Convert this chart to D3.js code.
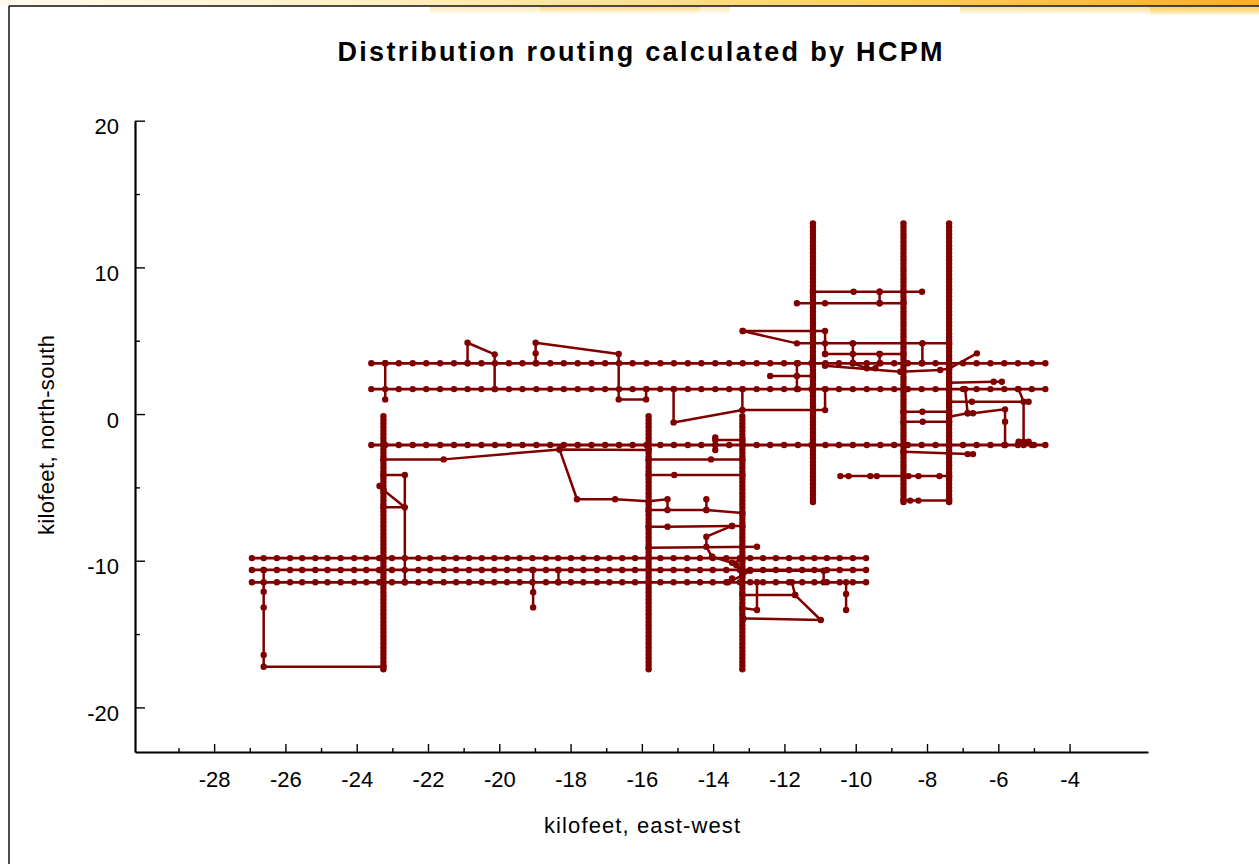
<!DOCTYPE html>
<html><head><meta charset="utf-8">
<script src="https://cdn.jsdelivr.net/npm/d3@7"></script>
<style>
body{margin:0;background:#fff}
svg{display:block}
text{font-family:"Liberation Sans",Arial,Helvetica,sans-serif;fill:#000}
</style>
</head><body>
<svg id="chart" width="1259" height="864"></svg>
<script>
// ---------- data (kilofeet) ----------
const upperRowY = [3.46, 1.70, -2.11];
const upperRowX = [-23.59,-23.20,-22.82,-22.43,-22.05,-21.66,-21.27,-20.89,-20.50,-20.12,
  -19.73,-19.35,-18.96,-18.57,-18.19,-17.80,-17.41,-17.03,-16.64,-16.26,
  -15.87,-15.48,-15.10,-14.71,-14.33,-13.94,-13.55,-13.17,-12.78,-12.40,
  -12.01,-11.62,-11.24,-10.85,-10.47,-10.08,-9.69,-9.31,-8.92,-8.54,
  -8.15,-7.76,-7.38,-6.99,-6.61,-6.22,-5.83,-5.45,-5.06,-4.68];
const lowerRowY = [-9.82, -10.63, -11.47];
const lowerRowX = [-26.94,-26.61,-26.24,-25.87,-25.53,-25.16,-24.82,-24.45,-24.07,-23.73,
  -23.37,-23.01,-22.65,-22.27,-21.94,-21.56,-21.21,-20.85,-20.49,-20.14,
  -19.78,-19.43,-19.07,-18.69,-18.35,-17.99,-17.64,-17.26,-16.91,-16.55,
  -16.19,-15.81,-15.48,-15.11,-14.73,-14.37,-14.01,-13.63,-13.25,-12.96,
  -12.60,-12.24,-11.87,-11.50,-11.16,-10.81,-10.45,-10.08,-9.71];
const lowerColX = [-23.25, -15.81, -13.18];
const lowerColY = [-0.15,-0.4,-0.65,-0.9,-1.15,-1.4,-1.65,-1.9,-2.15,-2.4,-2.65,-2.9,-3.15,-3.4,-3.65,-3.9,
  -4.15,-4.4,-4.65,-4.9,-5.15,-5.4,-5.65,-5.9,-6.15,-6.4,-6.65,-6.9,-7.15,-7.4,-7.65,-7.9,
  -8.15,-8.4,-8.65,-8.9,-9.15,-9.4,-9.65,-9.9,-10.15,-10.4,-10.65,-10.9,-11.15,-11.4,-11.65,-11.9,
  -12.15,-12.4,-12.65,-12.9,-13.15,-13.4,-13.65,-13.9,-14.15,-14.4,-14.65,-14.9,-15.15,-15.4,
  -15.65,-15.9,-16.15,-16.4,-16.65,-16.9,-17.15,-17.4];
const upperColX = [-11.20, -8.66, -7.38];
const upperColY = [13,12.75,12.5,12.25,12,11.75,11.5,11.25,11,10.75,10.5,10.25,10,9.75,9.5,9.25,
  9,8.75,8.5,8.25,8,7.75,7.5,7.25,7,6.75,6.5,6.25,6,5.75,5.5,5.25,5,4.75,4.5,4.25,4,3.75,3.5,
  3.25,3,2.75,2.5,2.25,2,1.75,1.5,1.25,1,0.75,0.5,0.25,0,-0.25,-0.5,-0.75,-1,-1.25,-1.5,-1.75,
  -2,-2.25,-2.5,-2.75,-3,-3.25,-3.5,-3.75,-4,-4.25,-4.5,-4.75,-5,-5.25,-5.5,-5.75,-6];

// routed feeder segments (polylines, kilofeet)
const routes = [
 [[-23.20,3.46],[-23.20,1.00]],
 [[-20.89,3.46],[-20.89,4.86],[-20.13,4.07],[-20.13,1.70]],
 [[-18.98,3.46],[-18.98,4.86],[-16.65,4.09],[-16.65,1.00],[-15.88,1.00],[-15.88,1.70]],
 [[-15.11,1.70],[-15.11,-0.57],[-13.18,0.27],[-10.86,0.27],[-10.86,1.70]],
 [[-13.18,1.70],[-13.18,0.27]],
 [[-23.25,-3.09],[-21.56,-3.09],[-18.31,-2.41],[-15.81,-2.45]],
 [[-18.31,-2.41],[-17.82,-5.81],[-16.75,-5.81],[-15.81,-5.95],[-15.28,-5.81],[-15.28,-6.54]],
 [[-15.81,-6.54],[-14.19,-6.54],[-13.18,-6.75]],
 [[-14.19,-5.81],[-14.19,-6.54]],
 [[-15.81,-7.68],[-15.28,-7.68],[-13.47,-7.63],[-13.18,-7.63]],
 [[-13.47,-7.63],[-14.19,-8.36],[-14.19,-9.05],[-14.03,-9.73]],
 [[-15.81,-9.12],[-12.77,-9.05]],
 [[-15.81,-3.09],[-14.06,-3.09],[-13.18,-3.09]],
 [[-15.81,-4.16],[-15.09,-4.16],[-13.18,-4.16]],
 [[-13.94,-1.59],[-13.94,-2.45]],
 [[-13.94,-1.77],[-13.18,-1.77]],
 [[-23.25,-4.16],[-22.65,-4.16],[-22.65,-11.47]],
 [[-23.25,-5.18],[-22.65,-6.36],[-23.25,-6.36]],
 [[-26.61,-10.63],[-26.61,-12.11],[-26.61,-13.18],[-26.61,-16.43],[-26.61,-17.23],[-23.25,-17.23]],
 [[-19.05,-10.63],[-19.05,-12.15],[-19.05,-13.18]],
 [[-18.34,-10.63],[-18.34,-11.47]],
 [[-13.18,-12.34],[-11.70,-12.34],[-10.98,-14.04],[-13.15,-13.93]],
 [[-11.79,-11.47],[-11.70,-12.34]],
 [[-12.77,-11.47],[-12.77,-13.36],[-13.18,-13.22]],
 [[-10.27,-11.47],[-10.27,-12.27],[-10.27,-13.36]],
 [[-13.18,-10.68],[-10.90,-10.68],[-10.90,-11.47]],
 [[-14.03,-9.73],[-13.47,-10.14],[-13.18,-9.95]],
 [[-13.58,-11.47],[-13.18,-11.0],[-12.96,-10.68]],
 [[-11.20,8.34],[-10.06,8.34],[-9.33,8.34],[-8.14,8.34]],
 [[-11.65,7.55],[-10.86,7.55],[-9.33,7.55],[-8.66,7.55]],
 [[-9.33,8.34],[-9.33,7.55]],
 [[-13.17,5.66],[-10.86,5.66],[-10.86,4.09]],
 [[-13.17,5.66],[-11.65,4.82],[-10.86,4.82],[-10.08,4.82],[-8.13,4.82],[-7.38,4.82]],
 [[-10.08,4.82],[-10.08,3.46]],
 [[-8.13,4.82],[-8.13,3.46]],
 [[-10.86,4.09],[-10.08,4.09],[-9.33,4.09],[-8.66,4.09]],
 [[-9.33,4.09],[-9.33,3.46],[-9.45,3.12],[-9.69,3.12],[-10.08,3.46]],
 [[-10.86,3.29],[-8.75,2.88],[-7.63,3.0],[-7.38,3.1],[-6.60,4.14]],
 [[-12.40,2.59],[-11.65,2.59],[-11.20,2.59]],
 [[-11.65,3.46],[-11.65,1.70]],
 [[-7.38,2.13],[-6.13,2.20],[-5.90,2.20]],
 [[-8.66,0.16],[-8.13,0.16],[-7.38,0.16]],
 [[-8.66,-0.52],[-8.12,-0.52],[-7.38,-0.52]],
 [[-7.38,-0.18],[-6.86,0.05],[-6.71,0.05],[-5.81,0.32],[-5.81,-0.52],[-5.81,-2.11]],
 [[-6.93,1.70],[-6.86,0.05]],
 [[-7.38,0.84],[-6.74,0.84],[-5.15,0.84]],
 [[-5.43,1.70],[-5.29,0.84],[-5.29,-1.89],[-5.29,-2.11]],
 [[-5.43,-1.89],[-5.15,-1.89],[-5.0,-2.11]],
 [[-8.66,-2.57],[-6.86,-2.73],[-6.71,-2.73]],
 [[-10.43,-4.23],[-10.20,-4.23],[-9.59,-4.23],[-9.41,-4.23],[-8.52,-4.23],[-8.24,-4.23],[-7.65,-4.23],[-7.38,-4.23]],
 [[-8.66,-5.9],[-8.47,-5.9],[-8.24,-5.9],[-7.38,-5.9]]
];
const extraDots = [[-18.98,4.14],[-23.36,-4.91],[-13.47,-11.2],[-13.35,-10.3]];

const xTickValues = [-29,-28,-27,-26,-25,-24,-23,-22,-21,-20,-19,-18,-17,-16,-15,-14,-13,-12,-11,-10,-9,-8,-7,-6,-5,-4];
const xTickLabels = [-28,-26,-24,-22,-20,-18,-16,-14,-12,-10,-8,-6,-4];
const yTickValues = [20,15,10,5,0,-5,-10,-15,-20];
const yTickLabels = [20,10,0,-10,-20];

const title = "Distribution routing calculated by HCPM";
const xTitle = "kilofeet, east-west";
const yTitle = "kilofeet, north-south";

// ---------- drawing ----------
const svg = d3.select("#chart");
const W = 1259, H = 864;
const color = "#800000";

// slide decoration: brush band at top
const defs = svg.append("defs");
const grad = defs.append("linearGradient").attr("id","brush").attr("x1","0").attr("x2","1");
[[0,"#fff6d8",0.5],[0.3,"#ffe9a6",0.7],[0.55,"#fdd66a",0.85],[0.8,"#fbc23c",0.95],[1,"#f7b020",1]]
  .forEach(s=>grad.append("stop").attr("offset",s[0]).attr("stop-color",s[1]).attr("stop-opacity",s[2]));
const fade = defs.append("linearGradient").attr("id","fade").attr("x1","0").attr("x2","0").attr("y1","0").attr("y2","1");
fade.append("stop").attr("offset",0).attr("stop-color","#fbc842").attr("stop-opacity",0.7);
fade.append("stop").attr("offset",1).attr("stop-color","#fbc842").attr("stop-opacity",0);
svg.append("rect").attr("x",0).attr("y",0).attr("width",W).attr("height",6).attr("fill","url(#brush)");
const streaks = [[430,7,300,8,0.55],[540,7,160,6,0.6],[960,7,299,8,0.8],[1150,7,109,9,0.9]];
svg.selectAll("rect.streak").data(streaks).join("rect").attr("class","streak")
  .attr("x",d=>d[0]).attr("y",d=>d[1]).attr("width",d=>d[2]).attr("height",d=>d[3])
  .attr("fill","url(#fade)").attr("opacity",d=>d[4]);
// frame
svg.append("line").attr("x1",9).attr("x2",W).attr("y1",6).attr("y2",6).attr("stroke","#111").attr("stroke-width",1.5);
svg.append("line").attr("x1",9).attr("x2",9).attr("y1",6).attr("y2",H).attr("stroke","#111").attr("stroke-width",1.5);

const x = d3.scaleLinear().domain([-30.22,-1.8]).range([135,1148]);
const y = d3.scaleLinear().domain([-23.04,20]).range([752,120.7]);

// title
svg.append("text").attr("x",640).attr("y",61).attr("text-anchor","middle")
  .attr("font-size",27).attr("font-weight","bold")
  .attr("textLength",605).attr("lengthAdjust","spacing").text(title);

// axes
const gx = svg.append("g").attr("transform","translate(0,752)")
  .call(d3.axisBottom(x).tickValues(xTickValues).tickSizeOuter(0).tickSizeInner(0).tickPadding(19)
    .tickFormat(d => xTickLabels.includes(d) ? String(d) : ""));
gx.select(".domain").attr("stroke","#000").attr("stroke-width",2.2);
gx.selectAll(".tick line").attr("y2", d => xTickLabels.includes(d) ? -8 : -4).attr("stroke","#000").attr("stroke-width",1.4);
gx.selectAll(".tick text").attr("font-size",22).attr("font-family","Liberation Sans, Arial, sans-serif").attr("fill","#000");

const gy = svg.append("g").attr("transform","translate(135,0)")
  .call(d3.axisLeft(y).tickValues(yTickValues).tickSizeOuter(0).tickSizeInner(0).tickPadding(16)
    .tickFormat(d => yTickLabels.includes(d) ? String(d) : ""));
gy.select(".domain").attr("stroke","#000").attr("stroke-width",2.2);
gy.selectAll(".tick line").attr("x2", d => yTickLabels.includes(d) ? 10 : 5).attr("stroke","#000").attr("stroke-width",1.4);
gy.selectAll(".tick text").attr("font-size",22).attr("dy","0.6em").attr("font-family","Liberation Sans, Arial, sans-serif").attr("fill","#000");

svg.append("text").attr("x",642).attr("y",833).attr("text-anchor","middle").attr("font-size",22)
  .attr("textLength",196).attr("lengthAdjust","spacing").text(xTitle);
svg.append("text").attr("transform","translate(54,435) rotate(-90)").attr("text-anchor","middle").attr("font-size",22)
  .attr("textLength",200).attr("lengthAdjust","spacing").text(yTitle);

// network
const plot = svg.append("g");
const line = d3.line().x(d=>x(d[0])).y(d=>y(d[1]));

const rows = [];
upperRowY.forEach(v => rows.push(upperRowX.map(u=>[u,v])));
lowerRowY.forEach(v => rows.push(lowerRowX.map(u=>[u,v])));
upperColX.forEach(u => rows.push(upperColY.map(v=>[u,v])));
lowerColX.forEach(u => rows.push(lowerColY.map(v=>[u,v])));

plot.selectAll("path.route").data(routes).join("path").attr("class","route")
  .attr("d",line).attr("fill","none").attr("stroke",color).attr("stroke-width",2.5).attr("stroke-linejoin","round");
plot.selectAll("path.row").data(rows).join("path").attr("class","row")
  .attr("d",line).attr("fill","none").attr("stroke",color).attr("stroke-width",2.8);

const dots = rows.flat().concat(routes.flat()).concat(extraDots);
plot.selectAll("circle").data(dots).join("circle")
  .attr("cx",d=>x(d[0])).attr("cy",d=>y(d[1])).attr("r",3.2).attr("fill",color);
</script>
</body></html>
